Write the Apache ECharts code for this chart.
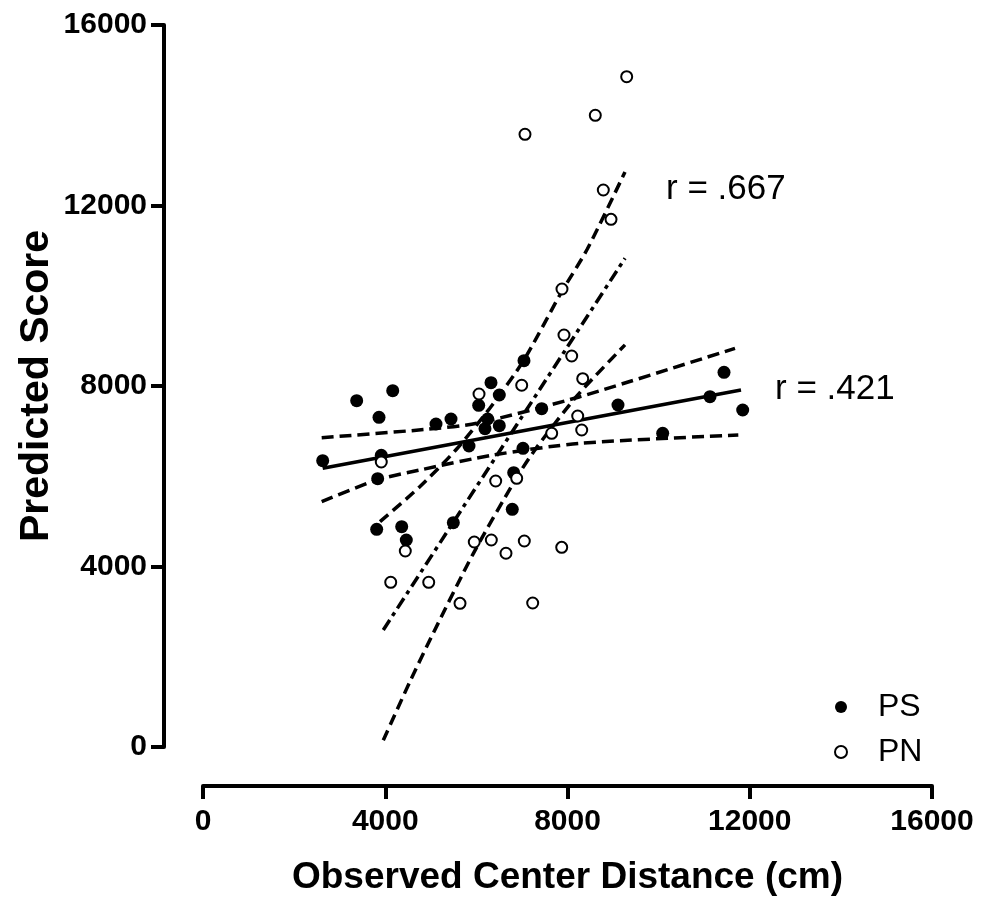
<!DOCTYPE html>
<html>
<head>
<meta charset="utf-8">
<script src="https://cdn.jsdelivr.net/npm/echarts@6/dist/echarts.min.js"></script>
<style>
html,body{margin:0;padding:0;background:#fff;}
#chart{width:982px;height:903px;}
</style>
</head>
<body>
<div id="chart"></div>
<script>
// ---- Data ----
const xTicks = [0, 4000, 8000, 12000, 16000];
const yTicks = [0, 4000, 8000, 12000, 16000];

// PS (filled circles)
const psX = [2627, 3373, 3863, 4164, 3913, 3834, 5114, 5443, 5838, 6051, 6321, 6503, 6248, 6189, 6503, 7045, 7434, 7023, 6819, 6788, 5494, 4361, 3812, 4462, 9108, 11127, 11435, 11845, 10089];
const psY = [6345, 7674, 7306, 7896, 6464, 5946, 7158, 7269, 6670, 7572, 8073, 7801, 7269, 7054, 7120, 8561, 7497, 6619, 6079, 5268, 4971, 4882, 4824, 4587, 7579, 7763, 8304, 7468, 6952];

// PN (open circles)
const pnX = [3913, 6058, 6995, 8092, 8334, 8224, 8312, 7653, 6424, 6885, 4440, 5954, 6328, 6650, 7052, 7873, 4120, 4954, 5641, 7236, 9299, 8610, 7067, 8786, 8955, 7923, 7879];
const pnY = [6316, 7823, 8016, 8665, 8162, 7335, 7025, 6952, 5895, 5955, 4344, 4543, 4587, 4293, 4565, 4425, 3650, 3650, 3184, 3191, 14854, 13999, 13578, 12343, 11694, 9130, 10150];

// PS regression line and 95% confidence band
const psFitX = [2627, 11808];
const psFitY = [6176, 7911];
const psUpperX = [2605, 4910, 6007, 8274, 11676];
const psUpperY = [6854, 7040, 7173, 7763, 8835];
const psLowerX = [2605, 3812, 4763, 6371, 8274, 11749];
const psLowerY = [5436, 5917, 6139, 6471, 6730, 6914];

// PN regression line and 95% confidence band
const pnFitX = [3957, 9262];
const pnFitY = [2593, 10830];
const pnUpperX = [3885, 4763, 5568, 6299, 7030, 7857, 8435, 9262];
const pnUpperY = [4993, 5773, 6604, 7513, 8554, 10061, 11036, 12742];
const pnLowerX = [3957, 4543, 5055, 5932, 6885, 7324, 8202, 9262];
const pnLowerY = [150, 1452, 2526, 4286, 5972, 6639, 7774, 8911];

const rLabels = ['r = .667', 'r = .421'];
const seriesNames = ['PS', 'PN'];
const xTitle = 'Observed Center Distance (cm)';
const yTitle = 'Predicted Score';

// ---- Build chart ----
const zip = (xs, ys) => xs.map((x, i) => [x, ys[i]]);
const FONT = '"Liberation Sans", Arial, Helvetica, sans-serif';

function lineSeries(xs, ys, dash, w) {
  return {
    type: 'line', data: zip(xs, ys), showSymbol: false, symbol: 'none',
    smooth: 0.25, silent: true, z: 2,
    lineStyle: { color: '#000', width: w, type: dash, opacity: 1 }
  };
}

const chart = echarts.init(document.getElementById('chart'), null, { renderer: 'canvas' });
chart.setOption({
  backgroundColor: '#fff',
  animation: false,
  grid: { left: 203, top: 25, width: 729, height: 722, containLabel: false },
  xAxis: {
    type: 'value', min: xTicks[0], max: xTicks[xTicks.length - 1], interval: xTicks[1] - xTicks[0],
    offset: 39,
    name: xTitle, nameLocation: 'middle', nameGap: 73, nameMoveOverlap: false,
    nameTextStyle: { fontFamily: FONT, fontWeight: 'bold', fontSize: 37, color: '#000' },
    axisLine: { show: true, onZero: false, lineStyle: { color: '#000', width: 4 } },
    axisTick: { show: true, length: 13, lineStyle: { color: '#000', width: 4 } },
    axisLabel: { fontFamily: FONT, fontWeight: 'bold', fontSize: 30, color: '#000', margin: 21,
                 formatter: v => String(v) },
    splitLine: { show: false }
  },
  yAxis: {
    type: 'value', min: yTicks[0], max: yTicks[yTicks.length - 1], interval: yTicks[1] - yTicks[0],
    offset: 39,
    name: yTitle, nameLocation: 'middle', nameGap: 107, nameRotate: 90, nameMoveOverlap: false,
    nameTextStyle: { fontFamily: FONT, fontWeight: 'bold', fontSize: 41, color: '#000' },
    axisLine: { show: true, onZero: false, lineStyle: { color: '#000', width: 4 } },
    axisTick: { show: true, length: 13, lineStyle: { color: '#000', width: 4 } },
    axisLabel: { fontFamily: FONT, fontWeight: 'bold', fontSize: 30, color: '#000', margin: 17,
                 formatter: v => String(v) },
    splitLine: { show: false }
  },
  legend: {
    orient: 'vertical', left: 829, top: 685,
    itemWidth: 12, itemHeight: 12, itemGap: 11,
    icon: 'circle',
    data: seriesNames,
    textStyle: { fontFamily: FONT, fontSize: 32, color: '#000', lineHeight: 34, padding: [0, 0, 0, 26] }
  },
  graphic: [
    { type: 'text', x: 666, y: 189, style: { text: rLabels[0], font: '35px ' + FONT, fill: '#000', verticalAlign: 'middle' } },
    { type: 'text', x: 775, y: 389, style: { text: rLabels[1], font: '35px ' + FONT, fill: '#000', verticalAlign: 'middle' } }
  ],
  series: [
    lineSeries(psFitX, psFitY, 'solid', 3.5),
    lineSeries(psUpperX, psUpperY, [12, 6], 3.5),
    lineSeries(psLowerX, psLowerY, [12, 6], 3.5),
    lineSeries(pnFitX, pnFitY, [12, 5, 4, 5], 3.5),
    lineSeries(pnUpperX, pnUpperY, [11, 6], 3.5),
    lineSeries(pnLowerX, pnLowerY, [11, 6], 3.5),
    {
      name: seriesNames[0], type: 'scatter', data: zip(psX, psY), symbol: 'circle', symbolSize: 13, z: 5,
      itemStyle: { color: '#000', opacity: 1 }
    },
    {
      name: seriesNames[1], type: 'scatter', data: zip(pnX, pnY), symbol: 'circle', symbolSize: 11, z: 6,
      itemStyle: { color: '#fff', borderColor: '#000', borderWidth: 2, opacity: 1 }
    }
  ]
});
</script>
</body>
</html>
